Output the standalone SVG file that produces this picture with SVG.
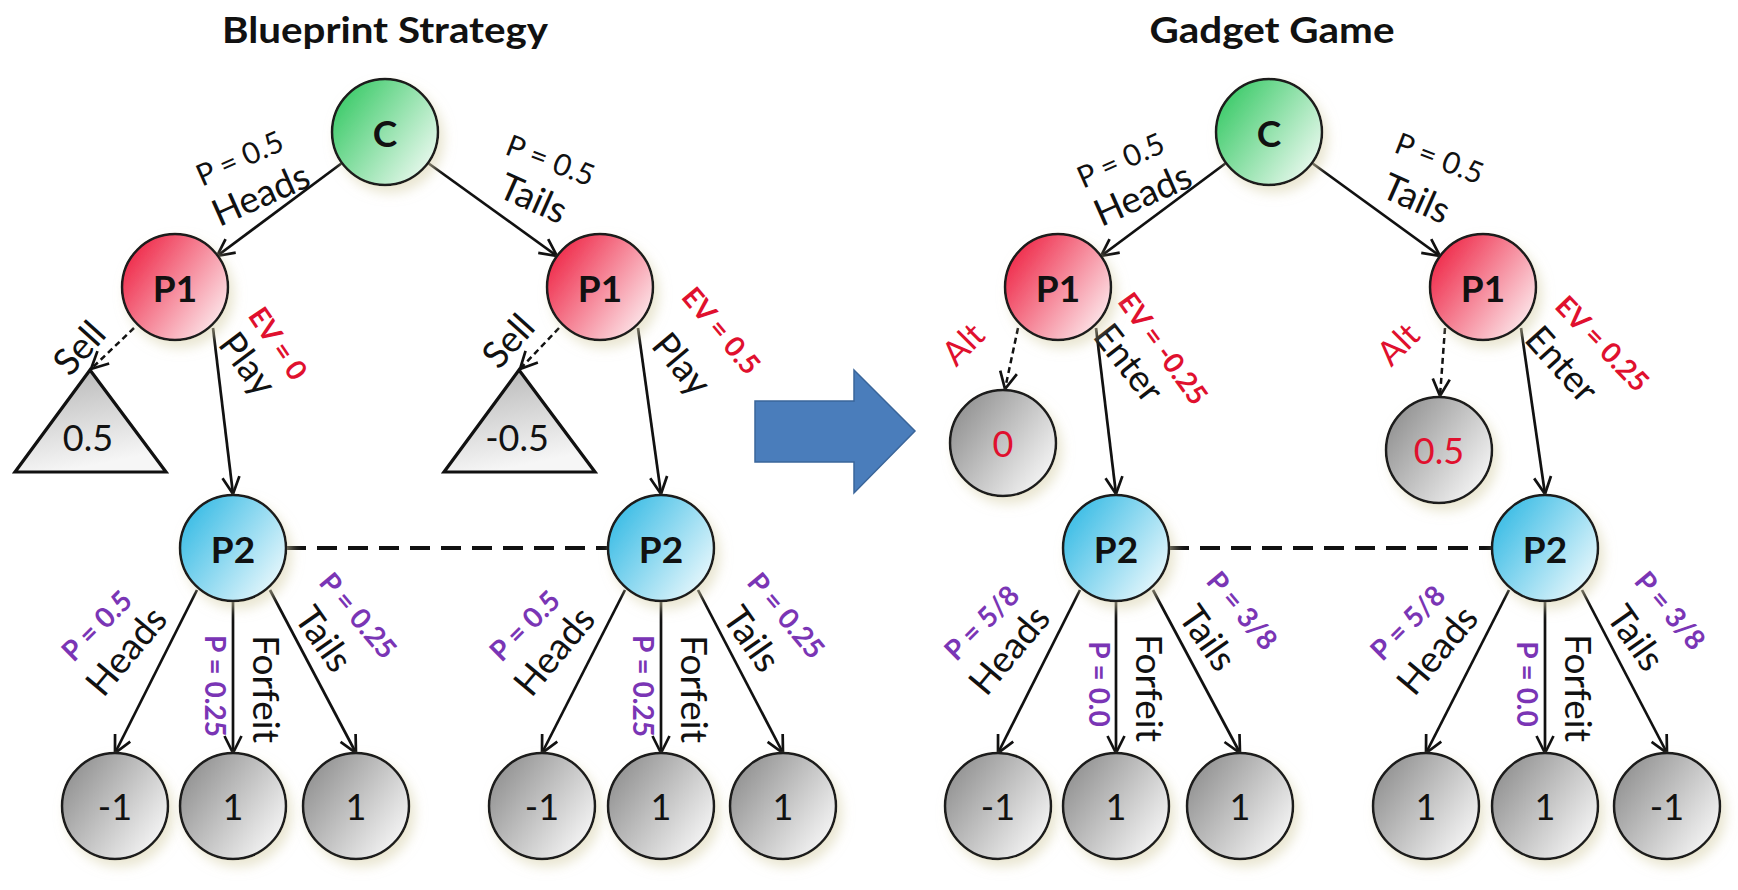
<svg xmlns="http://www.w3.org/2000/svg" width="1738" height="890" viewBox="0 0 1738 890">
<defs>
  <linearGradient id="gC" x1="0" y1="0.15" x2="1" y2="0.85"><stop offset="0" stop-color="#33c862"/><stop offset="1" stop-color="#f2fbf5"/></linearGradient>
  <linearGradient id="gP1" x1="0" y1="0.15" x2="1" y2="0.85"><stop offset="0" stop-color="#ee1f40"/><stop offset="1" stop-color="#fdf1f3"/></linearGradient>
  <linearGradient id="gP2" x1="0" y1="0.15" x2="1" y2="0.85"><stop offset="0" stop-color="#31b9e4"/><stop offset="1" stop-color="#f0fafd"/></linearGradient>
  <linearGradient id="gL" x1="0" y1="0.15" x2="1" y2="0.85"><stop offset="0" stop-color="#8c8c8c"/><stop offset="1" stop-color="#fbfbfb"/></linearGradient>
  <linearGradient id="gT" x1="0" y1="0" x2="0.3" y2="1"><stop offset="0" stop-color="#b4b4b4"/><stop offset="1" stop-color="#f6f6f6"/></linearGradient>
  <filter id="sh" x="-40%" y="-40%" width="190%" height="190%"><feDropShadow dx="5" dy="7" stdDeviation="6" flood-color="#d9d2ad" flood-opacity="0.55"/></filter>
  <marker id="ah" markerUnits="userSpaceOnUse" markerWidth="24" markerHeight="24" viewBox="0 0 24 24" refX="22" refY="12" orient="auto">
    <path d="M5,3.5 L22,12 L5,20.5" fill="none" stroke="#111" stroke-width="2.7" stroke-dasharray="none"/>
  </marker>
</defs>
<style>
  .nd{stroke:#1a1a1a;stroke-width:2.5}
  .t{font-family:Lato,"Open Sans","Liberation Sans",sans-serif;text-anchor:middle;dominant-baseline:central}
  .title{font-family:Lato,"Open Sans","Liberation Sans",sans-serif;font-weight:bold;font-size:36px;text-anchor:middle;fill:#111}
  .nl{font-weight:bold;font-size:37px;fill:#111}
  .lv{font-size:36px;fill:#111}
  .lvr{font-size:36px;fill:#e0102e}
  .big{font-size:37px;fill:#111}
  .pb{font-size:30px;fill:#111}
  .ev{font-size:28px;font-weight:bold;fill:#e0102e}
  .alt{font-size:34px;fill:#e0102e}
  .pp{font-size:28px;font-weight:bold;fill:#7a35b5}
  .ln{stroke:#111;stroke-width:2.7;fill:none}
  .dl{stroke:#111;stroke-width:2.5;fill:none;stroke-dasharray:6 4}
  .is{stroke:#111;stroke-width:3.8;fill:none;stroke-dasharray:20 11}
</style>
<rect width="1738" height="890" fill="#ffffff"/>

<text class="title" x="385" y="43" textLength="326" lengthAdjust="spacingAndGlyphs">Blueprint Strategy</text>
<text class="title" x="1272" y="43" textLength="245" lengthAdjust="spacingAndGlyphs">Gadget Game</text>

<g id="connectors">
  <path class="ln" d="M342,163 L217,256" marker-end="url(#ah)"/>
  <path class="ln" d="M428,163 L557,256" marker-end="url(#ah)"/>
  <path class="dl" d="M134,328 L91,369" marker-end="url(#ah)"/>
  <path class="ln" d="M213,328 L233,494" marker-end="url(#ah)"/>
  <path class="dl" d="M559,328 L520,369" marker-end="url(#ah)"/>
  <path class="ln" d="M638,328 L661,494" marker-end="url(#ah)"/>
  <path class="is" d="M286,548 L608,548"/>
  <path class="ln" d="M197,590 L115,753" marker-end="url(#ah)"/>
  <path class="ln" d="M233,601 L233,753" marker-end="url(#ah)"/>
  <path class="ln" d="M270,590 L356,753" marker-end="url(#ah)"/>
  <path class="ln" d="M625,590 L542,753" marker-end="url(#ah)"/>
  <path class="ln" d="M661,601 L661,753" marker-end="url(#ah)"/>
  <path class="ln" d="M698,590 L783,753" marker-end="url(#ah)"/>

  <path class="ln" d="M1226,163 L1101,256" marker-end="url(#ah)"/>
  <path class="ln" d="M1312,163 L1440,256" marker-end="url(#ah)"/>
  <path class="dl" d="M1018,328 L1005,389" marker-end="url(#ah)"/>
  <path class="ln" d="M1096,328 L1116,494" marker-end="url(#ah)"/>
  <path class="dl" d="M1445,328 L1440,396" marker-end="url(#ah)"/>
  <path class="ln" d="M1521,328 L1545,494" marker-end="url(#ah)"/>
  <path class="is" d="M1169,548 L1492,548"/>
  <path class="ln" d="M1080,590 L998,753" marker-end="url(#ah)"/>
  <path class="ln" d="M1116,601 L1116,753" marker-end="url(#ah)"/>
  <path class="ln" d="M1153,590 L1240,753" marker-end="url(#ah)"/>
  <path class="ln" d="M1509,590 L1426,753" marker-end="url(#ah)"/>
  <path class="ln" d="M1545,601 L1545,753" marker-end="url(#ah)"/>
  <path class="ln" d="M1582,590 L1667,753" marker-end="url(#ah)"/>
</g>

<g id="labels">
  <text class="t pb" x="239" y="157" transform="rotate(-24 239 157)">P = 0.5</text>
  <text class="t big" x="260" y="193" transform="rotate(-24 260 193)">Heads</text>
  <text class="t pb" x="551" y="159" transform="rotate(21 551 159)">P = 0.5</text>
  <text class="t big" x="534" y="197" transform="rotate(24 534 197)">Tails</text>
  <text class="t ev" x="279" y="343" transform="rotate(56 279 343)">EV = 0</text>
  <text class="t big" x="249" y="363" transform="rotate(53 249 363)">Play</text>
  <text class="t big" x="78" y="347" transform="rotate(-48 78 347)">Sell</text>
  <text class="t ev" x="722" y="330" transform="rotate(50 722 330)">EV = 0.5</text>
  <text class="t big" x="683" y="363" transform="rotate(50 683 363)">Play</text>
  <text class="t big" x="507" y="340" transform="rotate(-48 507 340)">Sell</text>

  <text class="t pp" x="96" y="625" transform="rotate(-45 96 625)">P = 0.5</text>
  <text class="t big" x="125" y="650" transform="rotate(-50 125 650)">Heads</text>
  <text class="t pp" x="216" y="686" transform="rotate(90 216 686)">P = 0.25</text>
  <text class="t big" x="267" y="689" transform="rotate(90 267 689)">Forfeit</text>
  <text class="t big" x="325" y="638" transform="rotate(55 325 638)">Tails</text>
  <text class="t pp" x="359" y="615" transform="rotate(50 359 615)">P = 0.25</text>

  <text class="t pp" x="524" y="625" transform="rotate(-45 524 625)">P = 0.5</text>
  <text class="t big" x="553" y="650" transform="rotate(-50 553 650)">Heads</text>
  <text class="t pp" x="644" y="686" transform="rotate(90 644 686)">P = 0.25</text>
  <text class="t big" x="695" y="689" transform="rotate(90 695 689)">Forfeit</text>
  <text class="t big" x="753" y="638" transform="rotate(55 753 638)">Tails</text>
  <text class="t pp" x="787" y="615" transform="rotate(50 787 615)">P = 0.25</text>

  <text class="t pb" x="1120" y="159" transform="rotate(-24 1120 159)">P = 0.5</text>
  <text class="t big" x="1142" y="193" transform="rotate(-24 1142 193)">Heads</text>
  <text class="t pb" x="1440" y="157" transform="rotate(21 1440 157)">P = 0.5</text>
  <text class="t big" x="1417" y="197" transform="rotate(24 1417 197)">Tails</text>
  <text class="t alt" x="962" y="343" transform="rotate(-45 962 343)">Alt</text>
  <text class="t big" x="1130" y="362" transform="rotate(52 1130 362)">Enter</text>
  <text class="t ev" x="1164" y="348" transform="rotate(54 1164 348)">EV = -0.25</text>
  <text class="t alt" x="1397" y="343" transform="rotate(-45 1397 343)">Alt</text>
  <text class="t big" x="1563" y="363" transform="rotate(48 1563 363)">Enter</text>
  <text class="t ev" x="1603" y="343" transform="rotate(46 1603 343)">EV = 0.25</text>

  <text class="t pp" x="981" y="622" transform="rotate(-45 981 622)">P = 5/8</text>
  <text class="t big" x="1008" y="649" transform="rotate(-50 1008 649)">Heads</text>
  <text class="t pp" x="1100" y="684" transform="rotate(90 1100 684)">P = 0.0</text>
  <text class="t big" x="1150" y="688" transform="rotate(90 1150 688)">Forfeit</text>
  <text class="t big" x="1209" y="637" transform="rotate(55 1209 637)">Tails</text>
  <text class="t pp" x="1243" y="610" transform="rotate(50 1243 610)">P = 3/8</text>

  <text class="t pp" x="1407" y="622" transform="rotate(-45 1407 622)">P = 5/8</text>
  <text class="t big" x="1436" y="649" transform="rotate(-50 1436 649)">Heads</text>
  <text class="t pp" x="1528" y="684" transform="rotate(90 1528 684)">P = 0.0</text>
  <text class="t big" x="1579" y="688" transform="rotate(90 1579 688)">Forfeit</text>
  <text class="t big" x="1637" y="637" transform="rotate(55 1637 637)">Tails</text>
  <text class="t pp" x="1671" y="610" transform="rotate(50 1671 610)">P = 3/8</text>
</g>

<g id="bp-C"><circle class="nd" cx="385" cy="132" r="53" fill="url(#gC)" filter="url(#sh)"/><text class="t nl" x="385" y="132">C</text></g>
<g id="bp-P1-heads"><circle class="nd" cx="175" cy="287" r="53" fill="url(#gP1)" filter="url(#sh)"/><text class="t nl" x="175" y="287">P1</text></g>
<g id="bp-P1-tails"><circle class="nd" cx="600" cy="287" r="53" fill="url(#gP1)" filter="url(#sh)"/><text class="t nl" x="600" y="287">P1</text></g>
<g id="bp-sell-heads"><polygon points="90,370 15,472 166,472" fill="url(#gT)" stroke="#111" stroke-width="3.2"/><text class="t lv" x="88" y="437">0.5</text></g>
<g id="bp-sell-tails"><polygon points="519,370 444,472 595,472" fill="url(#gT)" stroke="#111" stroke-width="3.2"/><text class="t lv" x="517" y="437">-0.5</text></g>
<g id="bp-P2-heads"><circle class="nd" cx="233" cy="548" r="53" fill="url(#gP2)" filter="url(#sh)"/><text class="t nl" x="233" y="548">P2</text></g>
<g id="bp-P2-tails"><circle class="nd" cx="661" cy="548" r="53" fill="url(#gP2)" filter="url(#sh)"/><text class="t nl" x="661" y="548">P2</text></g>
<g id="bp-leaf-1"><circle class="nd" cx="115" cy="806" r="53" fill="url(#gL)" filter="url(#sh)"/><text class="t lv" x="115" y="806">-1</text></g>
<g id="bp-leaf-2"><circle class="nd" cx="233" cy="806" r="53" fill="url(#gL)" filter="url(#sh)"/><text class="t lv" x="233" y="806">1</text></g>
<g id="bp-leaf-3"><circle class="nd" cx="356" cy="806" r="53" fill="url(#gL)" filter="url(#sh)"/><text class="t lv" x="356" y="806">1</text></g>
<g id="bp-leaf-4"><circle class="nd" cx="542" cy="806" r="53" fill="url(#gL)" filter="url(#sh)"/><text class="t lv" x="542" y="806">-1</text></g>
<g id="bp-leaf-5"><circle class="nd" cx="661" cy="806" r="53" fill="url(#gL)" filter="url(#sh)"/><text class="t lv" x="661" y="806">1</text></g>
<g id="bp-leaf-6"><circle class="nd" cx="783" cy="806" r="53" fill="url(#gL)" filter="url(#sh)"/><text class="t lv" x="783" y="806">1</text></g>

<g id="big-arrow"><polygon points="755,401 854,401 854,370 915,431 854,493 854,462 755,462" fill="#4a7dbb" stroke="#3a659a" stroke-width="1.5"/></g>

<g id="gg-C"><circle class="nd" cx="1269" cy="132" r="53" fill="url(#gC)" filter="url(#sh)"/><text class="t nl" x="1269" y="132">C</text></g>
<g id="gg-P1-heads"><circle class="nd" cx="1058" cy="287" r="53" fill="url(#gP1)" filter="url(#sh)"/><text class="t nl" x="1058" y="287">P1</text></g>
<g id="gg-P1-tails"><circle class="nd" cx="1483" cy="287" r="53" fill="url(#gP1)" filter="url(#sh)"/><text class="t nl" x="1483" y="287">P1</text></g>
<g id="gg-alt-heads"><circle class="nd" cx="1003" cy="443" r="53" fill="url(#gL)" filter="url(#sh)"/><text class="t lvr" x="1003" y="443">0</text></g>
<g id="gg-alt-tails"><circle class="nd" cx="1439" cy="450" r="53" fill="url(#gL)" filter="url(#sh)"/><text class="t lvr" x="1439" y="450">0.5</text></g>
<g id="gg-P2-heads"><circle class="nd" cx="1116" cy="548" r="53" fill="url(#gP2)" filter="url(#sh)"/><text class="t nl" x="1116" y="548">P2</text></g>
<g id="gg-P2-tails"><circle class="nd" cx="1545" cy="548" r="53" fill="url(#gP2)" filter="url(#sh)"/><text class="t nl" x="1545" y="548">P2</text></g>
<g id="gg-leaf-1"><circle class="nd" cx="998" cy="806" r="53" fill="url(#gL)" filter="url(#sh)"/><text class="t lv" x="998" y="806">-1</text></g>
<g id="gg-leaf-2"><circle class="nd" cx="1116" cy="806" r="53" fill="url(#gL)" filter="url(#sh)"/><text class="t lv" x="1116" y="806">1</text></g>
<g id="gg-leaf-3"><circle class="nd" cx="1240" cy="806" r="53" fill="url(#gL)" filter="url(#sh)"/><text class="t lv" x="1240" y="806">1</text></g>
<g id="gg-leaf-4"><circle class="nd" cx="1426" cy="806" r="53" fill="url(#gL)" filter="url(#sh)"/><text class="t lv" x="1426" y="806">1</text></g>
<g id="gg-leaf-5"><circle class="nd" cx="1545" cy="806" r="53" fill="url(#gL)" filter="url(#sh)"/><text class="t lv" x="1545" y="806">1</text></g>
<g id="gg-leaf-6"><circle class="nd" cx="1667" cy="806" r="53" fill="url(#gL)" filter="url(#sh)"/><text class="t lv" x="1667" y="806">-1</text></g>
</svg>
